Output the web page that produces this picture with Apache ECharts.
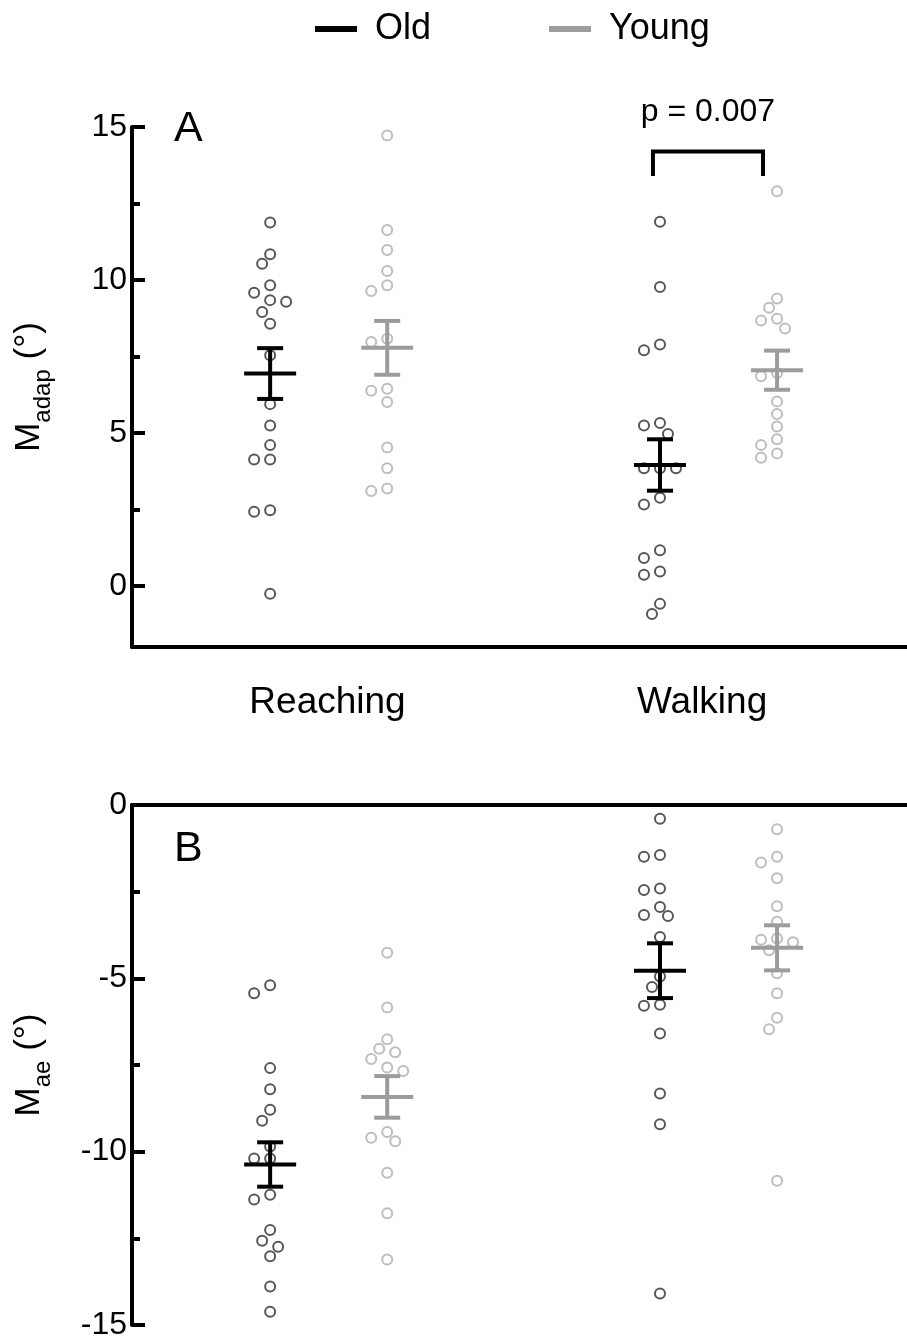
<!DOCTYPE html>
<html><head><meta charset="utf-8">
<script src="https://cdn.jsdelivr.net/npm/echarts@6/dist/echarts.min.js"></script>
<style>html,body{margin:0;padding:0;background:#fff}#c{width:907px;height:1341px}</style>
</head><body><div id="c"></div>
<script>
// ---------- data ----------
const groups = ['Reaching', 'Walking'];
const groupPos = [1, 4.33];           // x of "Old"; "Young" sits one unit right
const seriesNames = ['Old', 'Young'];

// Panel A : M_adap (deg)
const adapReachingOld   = [11.88, 10.84, 10.53, 9.83, 9.58, 9.34, 9.29, 8.95, 8.57, 7.54, 5.94, 5.24, 4.60, 4.13, 4.13, 2.47, 2.42, -0.26];
const adapReachingYoung = [14.72, 11.63, 10.98, 10.29, 9.83, 9.64, 8.08, 7.97, 6.44, 6.38, 6.01, 4.52, 3.84, 3.18, 3.10];
const adapWalkingOld    = [11.90, 9.77, 7.89, 7.70, 5.32, 5.24, 4.96, 3.84, 3.84, 3.84, 2.88, 2.66, 1.16, 0.91, 0.47, 0.36, -0.59, -0.92];
const adapWalkingYoung  = [12.90, 9.39, 9.09, 8.73, 8.67, 8.41, 6.96, 6.85, 6.03, 5.62, 5.21, 4.79, 4.60, 4.33, 4.19];
const adapOldMean   = [6.94, 3.95];
const adapOldSem    = [0.83, 0.84];
const adapYoungMean = [7.78, 7.05];
const adapYoungSem  = [0.88, 0.64];

// Panel B : M_ae (deg)
const aeReachingOld   = [-5.20, -5.43, -7.59, -8.20, -8.79, -9.11, -9.85, -10.20, -10.20, -11.24, -11.38, -12.26, -12.57, -12.74, -13.02, -13.89, -14.62];
const aeReachingYoung = [-4.26, -5.84, -6.76, -7.03, -7.13, -7.33, -7.57, -7.67, -9.43, -9.60, -9.70, -10.61, -11.78, -13.11];
const aeWalkingOld    = [-0.40, -1.44, -1.49, -2.41, -2.45, -2.94, -3.17, -3.20, -3.81, -4.95, -5.25, -5.76, -5.79, -6.59, -8.32, -9.21, -14.09];
const aeWalkingYoung  = [-0.70, -1.49, -1.66, -2.11, -2.92, -3.37, -3.85, -3.89, -3.96, -4.19, -4.85, -5.43, -6.14, -6.47, -10.84];
const aeOldMean   = [-10.37, -4.78];
const aeOldSem    = [0.64, 0.79];
const aeYoungMean = [-8.42, -4.12];
const aeYoungSem  = [0.60, 0.65];

// axis ticks
const aTicks = [0, 5, 10, 15];
const aMinorTicks = [2.5, 7.5, 12.5];
const bTicks = [-15, -10, -5, 0];
const bMinorTicks = [-12.5, -7.5, -2.5];
const pLabel = 'p = 0.007';

// ---------- chart ----------
const FONT = 'Liberation Sans, Arial, sans-serif';
const OLD_PT = '#575757', YOUNG_PT = '#bdbdbd', OLD_BAR = '#000000', YOUNG_BAR = '#9c9c9c';
const chart = echarts.init(document.getElementById('c'), null, {renderer: 'canvas'});

const labelPos = [groupPos[0] + 0.49, groupPos[1] + 0.36];
function xAxisDef(gi, pos, labels) {
  return {
    type: 'value', gridIndex: gi, min: -0.18, max: 6.44, position: pos,
    axisLine: {show: true, onZero: false, lineStyle: {color: '#000', width: 4}},
    axisTick: {show: false}, splitLine: {show: false},
    axisLabel: labels ? {
      show: true, customValues: labelPos, margin: 37, color: '#000',
      fontSize: 37, fontFamily: FONT,
      formatter: v => { const i = labelPos.findIndex(c => Math.abs(c - v) < 1e-6); return i >= 0 ? groups[i] : ''; }
    } : {show: false}
  };
}
function yAxisMain(gi, min, max, ticks, nameRich) {
  return {
    type: 'value', gridIndex: gi, min, max, position: 'left',
    axisLine: {show: true, onZero: false, lineStyle: {color: '#000', width: 4}},
    axisTick: {show: true, inside: true, customValues: ticks, length: 13, lineStyle: {color: '#000', width: 4}},
    axisLabel: {show: true, customValues: ticks, margin: 5, color: '#000', fontSize: 32, fontFamily: FONT},
    splitLine: {show: false},
    name: nameRich, nameLocation: 'middle', nameRotate: 90, nameGap: 85,
    nameTextStyle: {
      color: '#000', fontFamily: FONT,
      rich: {
        m: {fontSize: 35, fontFamily: FONT, color: '#000', verticalAlign: 'bottom', lineHeight: 42},
        s: {fontSize: 24, fontFamily: FONT, color: '#000', verticalAlign: 'bottom', lineHeight: 42, padding: [0, 0, -8, 0]}
      }
    }
  };
}
function yAxisMinor(gi, min, max, ticks) {
  return {
    type: 'value', gridIndex: gi, min, max, position: 'left', offset: 0,
    axisLine: {show: false, onZero: false},
    axisTick: {show: true, inside: true, customValues: ticks, length: 8, lineStyle: {color: '#000', width: 4}},
    axisLabel: {show: false}, splitLine: {show: false}
  };
}

const baseOption = {
  animation: false,
  backgroundColor: '#fff',
  textStyle: {fontFamily: FONT},
  grid: [
    {left: 132, width: 775, top: 127, height: 520, containLabel: false},
    {left: 132, width: 775, top: 805, height: 522, containLabel: false}
  ],
  xAxis: [xAxisDef(0, 'bottom', true), xAxisDef(1, 'top', false)],
  yAxis: [
    yAxisMain(0, -2, 15, aTicks, '{m|M}{s|adap}{m| (°)}'),
    yAxisMinor(0, -2, 15, aMinorTicks),
    yAxisMain(1, -15, 0, bTicks, '{m|M}{s|ae}{m| (°)}'),
    yAxisMinor(1, -15, 0, bMinorTicks)
  ],
  legend: {
    top: 6, left: 310, itemWidth: 42, itemHeight: 6, itemGap: 118, icon: 'rect',
    textStyle: {fontSize: 36, fontFamily: FONT, color: '#000', padding: [0, 0, 0, 13]},
    data: [
      {name: 'Old', itemStyle: {color: OLD_BAR, borderWidth: 0}},
      {name: 'Young', itemStyle: {color: YOUNG_BAR, borderWidth: 0}}
    ]
  },
  graphic: [
    {type: 'text', left: 174, top: 108, style: {text: 'A', fontSize: 43, fontFamily: FONT, fill: '#000'}},
    {type: 'text', left: 174, top: 828, style: {text: 'B', fontSize: 43, fontFamily: FONT, fill: '#000'}}
  ],
  series: []
};
chart.setOption(baseOption);

// beeswarm placement of points (deterministic, avoids overlap)
function swarm(values, xCenter, gi) {
  const finder = {xAxisIndex: gi, yAxisIndex: gi * 2};
  const order = values.map((v, i) => i).sort((a, b) => values[b] - values[a]);
  const placed = [], out = [];
  const step = 8, D = 12;
  const c0 = chart.convertToPixel(finder, [xCenter, 0])[0];
  const c1 = chart.convertToPixel(finder, [xCenter + 1, 0])[0];
  const pxPerUnit = c1 - c0;
  for (const i of order) {
    const v = values[i];
    const py = chart.convertToPixel(finder, [xCenter, v])[1];
    for (let k = 0; k < 40; k++) {
      const off = k === 0 ? 0 : (k % 2 ? -Math.ceil(k / 2) : Math.ceil(k / 2)) * step;
      const px = c0 + off;
      if (placed.every(p => Math.hypot(p[0] - px, p[1] - py) >= D)) {
        placed.push([px, py]);
        out.push([xCenter + off / pxPerUnit, v]);
        break;
      }
    }
  }
  return out;
}

function scatterSeries(name, gi, color, lists, offset) {
  let data = [];
  lists.forEach((vals, g) => { data = data.concat(swarm(vals, groupPos[g] + offset, gi)); });
  return {
    name, type: 'scatter', xAxisIndex: gi, yAxisIndex: gi * 2,
    symbol: 'circle', symbolSize: 10, z: 2,
    itemStyle: {color: 'rgba(255,255,255,0)', borderColor: color, borderWidth: 2, opacity: 1},
    emphasis: {disabled: true},
    data
  };
}

function errRender(color) {
  return function (params, api) {
    const x = api.value(0), m = api.value(1), s = api.value(2);
    const c = api.coord([x, m]), t = api.coord([x, m + s]), b = api.coord([x, m - s]);
    const style = {stroke: color, lineWidth: 4, fill: null};
    return {type: 'group', children: [
      {type: 'line', shape: {x1: t[0], y1: t[1], x2: b[0], y2: b[1]}, style},
      {type: 'line', shape: {x1: c[0] - 26, y1: c[1], x2: c[0] + 26, y2: c[1]}, style},
      {type: 'line', shape: {x1: t[0] - 13, y1: t[1], x2: t[0] + 13, y2: t[1]}, style},
      {type: 'line', shape: {x1: b[0] - 13, y1: b[1], x2: b[0] + 13, y2: b[1]}, style}
    ]};
  };
}
function errSeries(name, gi, color, means, sems, offset) {
  return {
    name, type: 'custom', xAxisIndex: gi, yAxisIndex: gi * 2, z: 5, clip: false,
    renderItem: errRender(color),
    data: means.map((m, g) => [groupPos[g] + offset, m, sems[g]])
  };
}

// significance bracket (walking: old vs young)
const bracketSeries = {
  name: 'sig', type: 'custom', xAxisIndex: 0, yAxisIndex: 0, z: 6, clip: false,
  renderItem: function (params, api) {
    const l = api.coord([groupPos[1] - 0.06, 14.2]);
    const r = api.coord([groupPos[1] + 0.88, 14.2]);
    const lb = api.coord([groupPos[1] - 0.06, 13.4]);
    const style = {stroke: '#000', lineWidth: 4, fill: null};
    return {type: 'group', children: [
      {type: 'polyline', shape: {points: [[lb[0], lb[1]], [l[0], l[1]], [r[0], r[1]], [r[0], lb[1]]]}, style},
      {type: 'text', style: {text: pLabel, x: (l[0] + r[0]) / 2, y: l[1] - 39, align: 'center', verticalAlign: 'middle',
        fontSize: 32, fontFamily: FONT, fill: '#000'}}
    ]};
  },
  data: [[0]]
};

chart.setOption({
  series: [
    scatterSeries('Old', 0, OLD_PT, [adapReachingOld, adapWalkingOld], 0),
    scatterSeries('Young', 0, YOUNG_PT, [adapReachingYoung, adapWalkingYoung], 1),
    scatterSeries('Old', 1, OLD_PT, [aeReachingOld, aeWalkingOld], 0),
    scatterSeries('Young', 1, YOUNG_PT, [aeReachingYoung, aeWalkingYoung], 1),
    errSeries('Old SEM A', 0, OLD_BAR, adapOldMean, adapOldSem, 0),
    errSeries('Young SEM A', 0, YOUNG_BAR, adapYoungMean, adapYoungSem, 1),
    errSeries('Old SEM B', 1, OLD_BAR, aeOldMean, aeOldSem, 0),
    errSeries('Young SEM B', 1, YOUNG_BAR, aeYoungMean, aeYoungSem, 1),
    bracketSeries
  ]
});
</script></body></html>
